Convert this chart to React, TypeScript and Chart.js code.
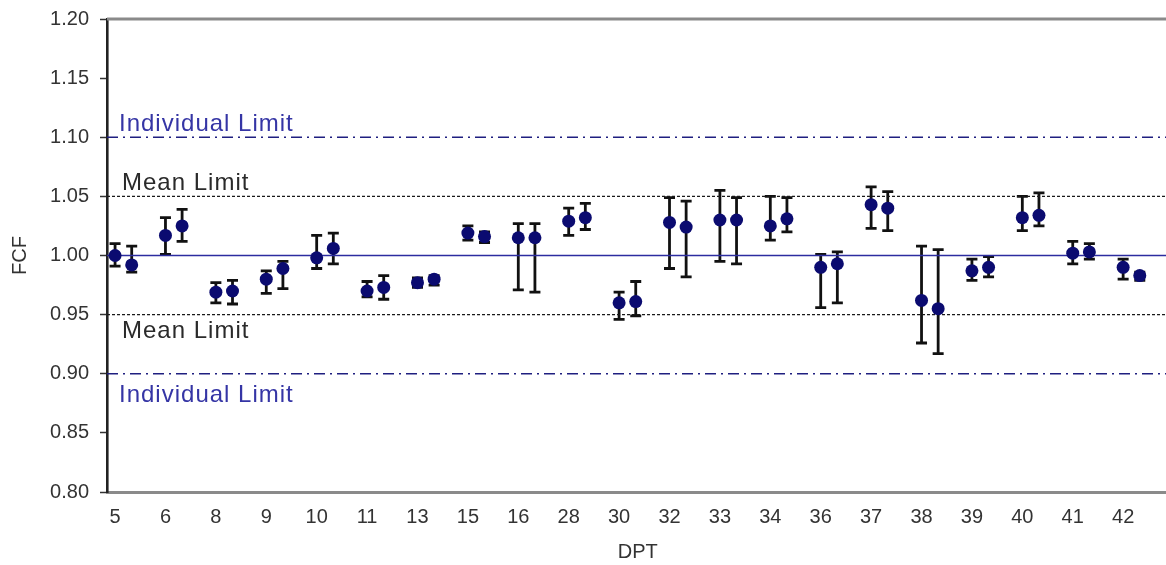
import React, { useEffect, useRef } from "react";
import { Chart, registerables } from "chart.js";

Chart.register(...registerables);

const categories = ["5", "6", "8", "9", "10", "11", "13", "15", "16", "28", "30", "32", "33", "34", "36", "37", "38", "39", "40", "41", "42"];

const leftMean = [1.000, 1.017, 0.969, 0.980, 0.998, 0.970, 0.977, 1.019, 1.015, 1.029, 0.960, 1.028, 1.030, 1.025, 0.990, 1.043, 0.962, 0.987, 1.032, 1.002, 0.990];
const leftHigh = [1.010, 1.032, 0.977, 0.987, 1.017, 0.978, 0.981, 1.025, 1.027, 1.040, 0.969, 1.049, 1.055, 1.050, 1.001, 1.058, 1.008, 0.997, 1.050, 1.012, 0.997];
const leftLow = [0.991, 1.001, 0.960, 0.968, 0.989, 0.965, 0.973, 1.013, 0.971, 1.017, 0.946, 0.989, 0.995, 1.013, 0.956, 1.023, 0.926, 0.979, 1.021, 0.993, 0.980];

const rightMean = [0.992, 1.025, 0.970, 0.989, 1.006, 0.973, 0.980, 1.016, 1.015, 1.032, 0.961, 1.024, 1.030, 1.031, 0.993, 1.040, 0.955, 0.990, 1.034, 1.003, 0.983];
const rightHigh = [1.008, 1.039, 0.979, 0.995, 1.019, 0.983, 0.983, 1.020, 1.027, 1.044, 0.978, 1.046, 1.049, 1.049, 1.003, 1.054, 1.005, 0.999, 1.053, 1.010, 0.986];
const rightLow = [0.986, 1.012, 0.959, 0.972, 0.993, 0.963, 0.975, 1.011, 0.969, 1.022, 0.949, 0.982, 0.993, 1.020, 0.960, 1.021, 0.917, 0.982, 1.025, 0.997, 0.979];

const yTickValues = [0.8, 0.85, 0.9, 0.95, 1.0, 1.05, 1.1, 1.15, 1.2];

const targetValue = 1.0;
const meanLimits = [0.95, 1.05];
const individualLimits = [0.9, 1.1];

const annotations = [
  { text: "Individual Limit", value: 1.1, dx: 12, dy: -6, color: "#3535a5" },
  { text: "Mean Limit", value: 1.05, dx: 15, dy: -6, color: "#2a2a2a" },
  { text: "Mean Limit", value: 0.95, dx: 15, dy: 23, color: "#2a2a2a" },
  { text: "Individual Limit", value: 0.9, dx: 12, dy: 28, color: "#3535a5" },
];

const X_MIN = -0.16;
const X_MAX = 20.9;
const PAIR_OFFSET = 0.33;
const FONT = '"Liberation Sans", Arial, sans-serif';

const errorBarPlugin = {
  id: "errorBars",
  beforeDatasetsDraw(chart: any) {
    const { ctx, scales } = chart;
    const x = scales.x;
    const y = scales.y;
    ctx.save();
    ctx.strokeStyle = "#111111";
    ctx.lineWidth = 2.8;
    ctx.lineCap = "butt";
    chart.data.datasets.forEach((ds: any) => {
      if (!ds.errLow) return;
      ds.data.forEach((p: any, i: number) => {
        const px = x.getPixelForValue(p.x);
        const yl = y.getPixelForValue(ds.errLow[i]);
        const yh = y.getPixelForValue(ds.errHigh[i]);
        const cap = 5.5;
        ctx.beginPath();
        ctx.moveTo(px, yl);
        ctx.lineTo(px, yh);
        ctx.moveTo(px - cap, yl);
        ctx.lineTo(px + cap, yl);
        ctx.moveTo(px - cap, yh);
        ctx.lineTo(px + cap, yh);
        ctx.stroke();
      });
    });
    ctx.restore();
  },
};

const decorPlugin = {
  id: "decor",
  afterDraw(chart: any) {
    const { ctx, chartArea, scales } = chart;
    const y = scales.y;
    ctx.save();
    ctx.strokeStyle = "#8a8a8a";
    ctx.lineWidth = 3;
    ctx.beginPath();
    ctx.moveTo(chartArea.left, chartArea.top);
    ctx.lineTo(chartArea.right, chartArea.top);
    ctx.stroke();
    ctx.font = "24px " + FONT;
    try {
      (ctx as any).letterSpacing = "1px";
    } catch (e) {}
    ctx.textAlign = "left";
    ctx.textBaseline = "alphabetic";
    annotations.forEach((a) => {
      ctx.fillStyle = a.color;
      ctx.fillText(a.text, chartArea.left + a.dx, y.getPixelForValue(a.value) + a.dy);
    });
    ctx.restore();
  },
};

function hLine(value: number, color: string, width: number, dash: number[]) {
  return {
    data: [
      { x: X_MIN, y: value },
      { x: X_MAX, y: value },
    ],
    showLine: true,
    borderColor: color,
    borderWidth: width,
    borderDash: dash,
    pointRadius: 0,
    fill: false,
    order: 2,
  };
}

export default function App() {
  const canvasRef = useRef<HTMLCanvasElement | null>(null);

  useEffect(() => {
    const canvas = canvasRef.current;
    if (!canvas) return;
    const pointColor = "#0b0b70";
    const chart = new Chart(canvas, {
      type: "scatter",
      data: {
        datasets: [
          {
            data: leftMean.map((v, i) => ({ x: i, y: v })),
            errLow: leftLow,
            errHigh: leftHigh,
            pointRadius: 6.5,
            pointBackgroundColor: pointColor,
            pointBorderColor: pointColor,
            pointBorderWidth: 0,
            order: 0,
          } as any,
          {
            data: rightMean.map((v, i) => ({ x: i + PAIR_OFFSET, y: v })),
            errLow: rightLow,
            errHigh: rightHigh,
            pointRadius: 6.5,
            pointBackgroundColor: pointColor,
            pointBorderColor: pointColor,
            pointBorderWidth: 0,
            order: 0,
          } as any,
          hLine(targetValue, "#2c2ca0", 1.4, []) as any,
          hLine(meanLimits[0], "#1a1a1a", 1.3, [3, 2]) as any,
          hLine(meanLimits[1], "#1a1a1a", 1.3, [3, 2]) as any,
          hLine(individualLimits[0], "#1f1f80", 1.5, [11, 5, 2, 5]) as any,
          hLine(individualLimits[1], "#1f1f80", 1.5, [11, 5, 2, 5]) as any,
        ],
      },
      options: {
        animation: false,
        responsive: false,
        maintainAspectRatio: false,
        layout: { padding: { top: 19, left: 0, right: 0, bottom: 0 } },
        plugins: {
          legend: { display: false },
          tooltip: { enabled: false },
        },
        scales: {
          x: {
            type: "linear",
            min: X_MIN,
            max: X_MAX,
            afterBuildTicks: (scale: any) => {
              scale.ticks = categories.map((_, i) => ({ value: i }));
            },
            afterFit: (scale: any) => {
              scale.height = 73;
              scale.paddingLeft = 0;
              scale.paddingRight = 0;
            },
            ticks: {
              callback: (v: any) => categories[v] ?? "",
              font: { family: FONT, size: 20 },
              color: "#333333",
              padding: 13,
              maxRotation: 0,
              autoSkip: false,
            },
            grid: { display: true, drawOnChartArea: false, drawTicks: false },
            border: { display: true, color: "#8a8a8a", width: 3 },
            title: {
              display: true,
              text: "DPT",
              font: { family: FONT, size: 20 },
              color: "#333333",
              padding: { top: 0, bottom: 1 },
            },
          },
          y: {
            type: "linear",
            min: 0.8,
            max: 1.2,
            afterBuildTicks: (scale: any) => {
              scale.ticks = yTickValues.map((v) => ({ value: v }));
            },
            afterFit: (scale: any) => {
              scale.width = 107;
              scale.paddingTop = 0;
              scale.paddingBottom = 0;
            },
            ticks: {
              callback: (v: any) => Number(v).toFixed(2),
              font: { family: FONT, size: 20 },
              color: "#333333",
              padding: 11,
            },
            grid: {
              display: true,
              drawOnChartArea: false,
              drawTicks: true,
              tickLength: 7,
              tickColor: "#333333",
              tickWidth: 1.5,
            },
            border: { display: true, color: "#222222", width: 2.6 },
            title: {
              display: true,
              text: "FCF",
              font: { family: FONT, size: 20 },
              color: "#333333",
              padding: { top: 8, bottom: 0 },
            },
          },
        },
      } as any,
      plugins: [errorBarPlugin, decorPlugin],
    });
    return () => chart.destroy();
  }, []);

  return (
    <div style={{ position: "fixed", left: 0, top: 0, width: 1175, height: 565, background: "#ffffff" }}>
      <canvas ref={canvasRef} width={1175} height={565} style={{ display: "block" }} />
    </div>
  );
}
